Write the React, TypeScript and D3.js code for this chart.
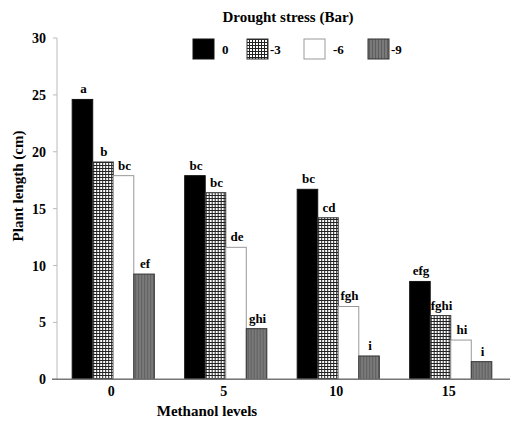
import React from "react";
import * as d3 from "d3";

const categories = ["0", "5", "10", "15"];
const seriesNames = ["0", "-3", "-6", "-9"];
const values0 = [24.6, 17.9, 16.7, 8.6];
const valuesM3 = [19.1, 16.4, 14.2, 5.6];
const valuesM6 = [17.9, 11.6, 6.4, 3.45];
const valuesM9 = [9.25, 4.45, 2.05, 1.55];
const letters0 = ["a", "bc", "bc", "efg"];
const lettersM3 = ["b", "bc", "cd", "fghi"];
const lettersM6 = ["bc", "de", "fgh", "hi"];
const lettersM9 = ["ef", "ghi", "i", "i"];
const yTicks = [0, 5, 10, 15, 20, 25, 30];

const seriesValues = [values0, valuesM3, valuesM6, valuesM9];
const seriesLetters = [letters0, lettersM3, lettersM6, lettersM9];
const fills = ["#000", "url(#checks)", "#fff", "url(#stripes)"];
const strokes = ["#111", "#333", "#999", "#333"];

const FONT = "Liberation Serif, Tinos, Times New Roman, DejaVu Serif, serif";

export default function App() {
  const W = 517, H = 421;
  const x0 = d3.scaleBand().domain(categories).range([57, 507]).paddingInner(0.27).paddingOuter(0.135);
  const x1 = d3.scaleBand().domain(seriesNames).range([0, x0.bandwidth()]).padding(0);
  const y = d3.scaleLinear().domain([0, 30]).range([379.3, 38]);

  const legendX = [193, 247, 304, 368];
  const legendLabelX = [222, 270, 333, 391];
  const ts: React.CSSProperties = { fontFamily: FONT, fontWeight: 700 };

  return (
    <svg width={W} height={H} style={{ position: "absolute", left: 0, top: 0, background: "#fff" }}>
      <defs>
        <pattern id="checks" patternUnits="userSpaceOnUse" width="3" height="3">
          <rect width="3" height="3" fill="#fff" />
          <rect width="3" height="1" fill="#222" />
          <rect width="1" height="3" fill="#222" />
        </pattern>
        <pattern id="stripes" patternUnits="userSpaceOnUse" width="3" height="3">
          <rect width="3" height="3" fill="#7a7a7a" />
          <rect width="1" height="3" fill="#5e5e5e" />
        </pattern>
      </defs>

      <text x={288} y={22} textAnchor="middle" fontSize={15} style={ts}>Drought stress (Bar)</text>

      {seriesNames.map((s, i) => (
        <g key={s}>
          <rect x={legendX[i]} y={39} width={21} height={20} fill={fills[i]} stroke={strokes[i]} strokeWidth={1} />
          <text x={legendLabelX[i]} y={54} fontSize={13} style={ts}>{s}</text>
        </g>
      ))}

      <line x1={57} x2={57} y1={y(30)} y2={y(0)} stroke="#bbb" strokeWidth={1} />
      {yTicks.map(t => (
        <g key={t}>
          <line x1={53} x2={57} y1={y(t)} y2={y(t)} stroke="#bbb" />
          <text x={46} y={y(t) + 5} textAnchor="end" fontSize={14} style={ts}>{t}</text>
        </g>
      ))}
      <text transform={`translate(23,186) rotate(-90)`} textAnchor="middle" fontSize={15} style={ts}>Plant length (cm)</text>

      {categories.map((c, ci) => (
        <g key={c} transform={`translate(${x0(c)},0)`}>
          {seriesNames.map((s, si) => {
            const v = seriesValues[si][ci];
            const bx = x1(s) as number;
            const bw = x1.bandwidth();
            return (
              <g key={s}>
                <rect x={bx} y={y(v)} width={bw} height={y(0) - y(v)} fill={fills[si]} stroke={strokes[si]} strokeWidth={1} />
                <text x={bx + bw / 2 + 1} y={y(v) - 6} textAnchor="middle" fontSize={13} style={ts}>{seriesLetters[si][ci]}</text>
              </g>
            );
          })}
        </g>
      ))}

      <line x1={52} x2={510} y1={y(0)} y2={y(0)} stroke="#777" strokeWidth={1.5} />
      {categories.map(c => (
        <text key={c} x={(x0(c) as number) + x0.bandwidth() / 2 - 2} y={396} textAnchor="middle" fontSize={14} style={ts}>{c}</text>
      ))}
      <text x={207} y={416} textAnchor="middle" fontSize={15} style={ts}>Methanol levels</text>
    </svg>
  );
}
